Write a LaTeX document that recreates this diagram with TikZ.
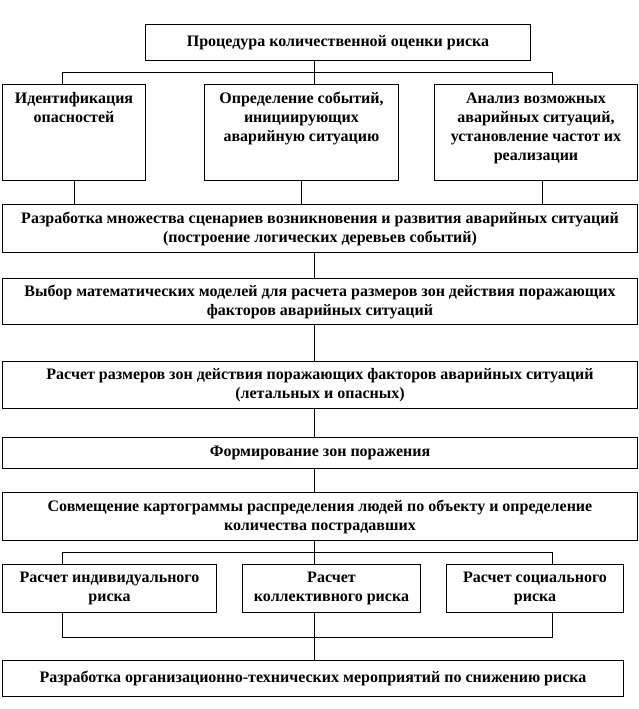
\documentclass[tikz,border=0pt]{standalone}
\usepackage{fontspec}
\setmainfont{Liberation Serif}
\begin{document}
\begin{tikzpicture}[x=1pt,y=-1pt,line width=1pt,
    font=\fontsize{16}{19}\selectfont\bfseries,
    box/.style={draw,anchor=north west,inner sep=0pt,align=center},
    lbl/.style={anchor=north,inner sep=0pt,align=center,yshift=-8pt}]
\useasboundingbox (0,0) rectangle (638,709);
\node[box,minimum width=385,minimum height=36] (proc) at (145,24) {Процедура количественной оценки риска};
\node[box,minimum width=143,minimum height=96] (ident) at (2,84) {};
\node[box,minimum width=194,minimum height=96] (opred) at (204,84) {};
\node[box,minimum width=203,minimum height=96] (anal) at (434,84) {};
\node[lbl] (identT) at (ident.north) {Идентификация\\опасностей};
\node[lbl] (opredT) at (opred.north) {Определение событий,\\инициирующих\\аварийную ситуацию};
\node[lbl] (analT) at (anal.north) {Анализ возможных\\аварийных ситуаций,\\установление частот их\\реализации};
\node[box,minimum width=635,minimum height=48] (razr) at (2,204) {Разработка множества сценариев возникновения и развития аварийных ситуаций\\(построение логических деревьев событий)};
\node[box,minimum width=635,minimum height=46] (vybor) at (2,278) {Выбор математических моделей для расчета размеров зон действия поражающих\\факторов аварийных ситуаций};
\node[box,minimum width=635,minimum height=47] (rasch) at (2,361) {Расчет размеров зон действия поражающих факторов аварийных ситуаций\\(летальных и опасных)};
\node[box,minimum width=635,minimum height=31] (form) at (2,437) {Формирование зон поражения};
\node[box,minimum width=635,minimum height=48] (sovm) at (2,492) {Совмещение картограммы распределения людей по объекту и определение\\количества пострадавших};
\node[box,minimum width=214,minimum height=48] (riskI) at (2,564) {Расчет индивидуального\\риска};
\node[box,minimum width=178,minimum height=48] (riskK) at (242,564) {Расчет\\коллективного риска};
\node[box,minimum width=177,minimum height=48] (riskS) at (446,564) {Расчет социального\\риска};
\node[box,minimum width=621,minimum height=36] (itog) at (2,660) {Разработка организационно-технических мероприятий по снижению риска};
\coordinate (f1) at (314,72);
\coordinate (f1L) at (62,72);
\coordinate (f1R) at (552,72);
\coordinate (f2) at (314,552);
\coordinate (f2L) at (62,552);
\coordinate (f2R) at (552,552);
\coordinate (f3L) at (62,637);
\coordinate (f3R) at (552,637);
\draw (proc.south -| f1) -- (f1 |- opred.north);
\draw (f1L |- ident.north) -- (f1L) -- (f1R) -- (f1R |- anal.north);
\draw (ident.south) -- (ident.south |- razr.north);
\draw (opred.south) -- (opred.south |- razr.north);
\draw ([xshift=6pt]anal.south) -- ([xshift=6pt]anal.south |- razr.north);
\draw (razr.south -| f1) -- (f1 |- vybor.north);
\draw (vybor.south -| f1) -- (f1 |- rasch.north);
\draw (rasch.south -| f1) -- (f1 |- form.north);
\draw (form.south -| f1) -- (f1 |- sovm.north);
\draw (sovm.south -| f2) -- (f2 |- riskK.north);
\draw (f2L |- riskI.north) -- (f2L) -- (f2R) -- (f2R |- riskS.north);
\draw (f3L |- riskI.south) -- (f3L) -- (f3R) -- (f3R |- riskS.south);
\draw (f2 |- riskK.south) -- (f2 |- itog.north);
\end{tikzpicture}
\end{document}
